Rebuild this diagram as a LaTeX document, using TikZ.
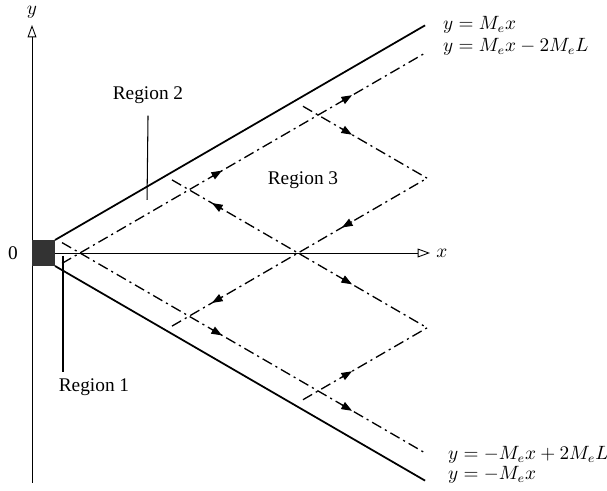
\documentclass[tikz,border=0pt]{standalone}
\usepackage{fontspec}
\setmainfont{Liberation Serif}
\usetikzlibrary{arrows.meta}
\begin{document}
\begin{tikzpicture}[scale=.02,font=\fontsize{11}{13}\selectfont,
  axis/.style={line width=.5pt,-{Triangle[open,length=7pt,width=5pt]}},
  wall/.style={line width=1pt},
  wave/.style={line width=.75pt,dash pattern=on 6pt off 2.4pt on 1.2pt off 2.4pt},
  flow/.style={line width=.6pt,-{Triangle[length=6pt,width=4.5pt]}},
  eqn/.style={anchor=west,inner sep=1pt,font=\fontsize{10.5}{12}\selectfont}]
\useasboundingbox (-32,-238) rectangle (575,253);
\draw[axis](0,-230)--(0,228) node[above](ylab){$y$};\draw[axis](0,0)--(398,0) node[right](xlab){$x$};
\node[left](zero) at (-8,0){0};
\fill[black!80](0,-13)rectangle(23,13);
\coordinate(w1) at (23,13);\coordinate(w2) at (393,227.6);\coordinate(w3) at (23,-13);\coordinate(w4) at (393,-227.6);
\draw[wall](w1)--(w2);\draw[wall](w3)--(w4);
\coordinate(P) at (266,0);\coordinate(R1) at (395,74.8);\coordinate(R2) at (395,-74.8);
\draw[wave](30,-10.4)--(393,199.9);\draw[wave](30,10.4)--(393,-199.9);
\draw[wave](140,73.1)--(P)--(R2);\draw[wave](140,-73.1)--(P)--(R1);
\draw[wave](271,146.7)--(R1);\draw[wave](271,-146.7)--(R2);
\draw[flow](185,79.5)++(-5,-2.9)--++(10,5.8);\draw[flow](315,154.9)++(-5,-2.9)--++(10,5.8);
\draw[flow](315,121.2)++(-5,2.9)--++(10,-5.8);\draw[flow](315,28.4)++(5,2.9)--++(-10,-5.8);
\draw[flow](185,47)++(5,-2.9)--++(-10,5.8);\draw[flow](185,-47)++(5,2.9)--++(-10,-5.8);
\draw[flow](315,-28.4)++(-5,2.9)--++(10,-5.8);\draw[flow](185,-79.5)++(-5,2.9)--++(10,-5.8);
\draw[flow](315,-154.9)++(-5,2.9)--++(10,-5.8);\draw[flow](315,-121.2)++(-5,-2.9)--++(10,5.8);
\node[eqn](l1) at (409,228){$y=M_e x$};\node[eqn](l2) at (409,206){$y=M_e x-2M_e L$};
\node[eqn](l3) at (414,-202){$y=-M_e x+2M_e L$};\node[eqn](l4) at (414,-222){$y=-M_e x$};
\node(reg2) at (116,158){Region 2};\coordinate(r2) at (115,53);\draw[line width=.6pt](reg2.south)++(0,-6)--(r2);
\node(reg1) at (62,-134){Region 1};\coordinate(r1) at (31,-3);\draw[line width=.6pt](r1)--(r1|-reg1.north);
\node(reg3) at (271,73){Region 3};
\end{tikzpicture}
\end{document}
